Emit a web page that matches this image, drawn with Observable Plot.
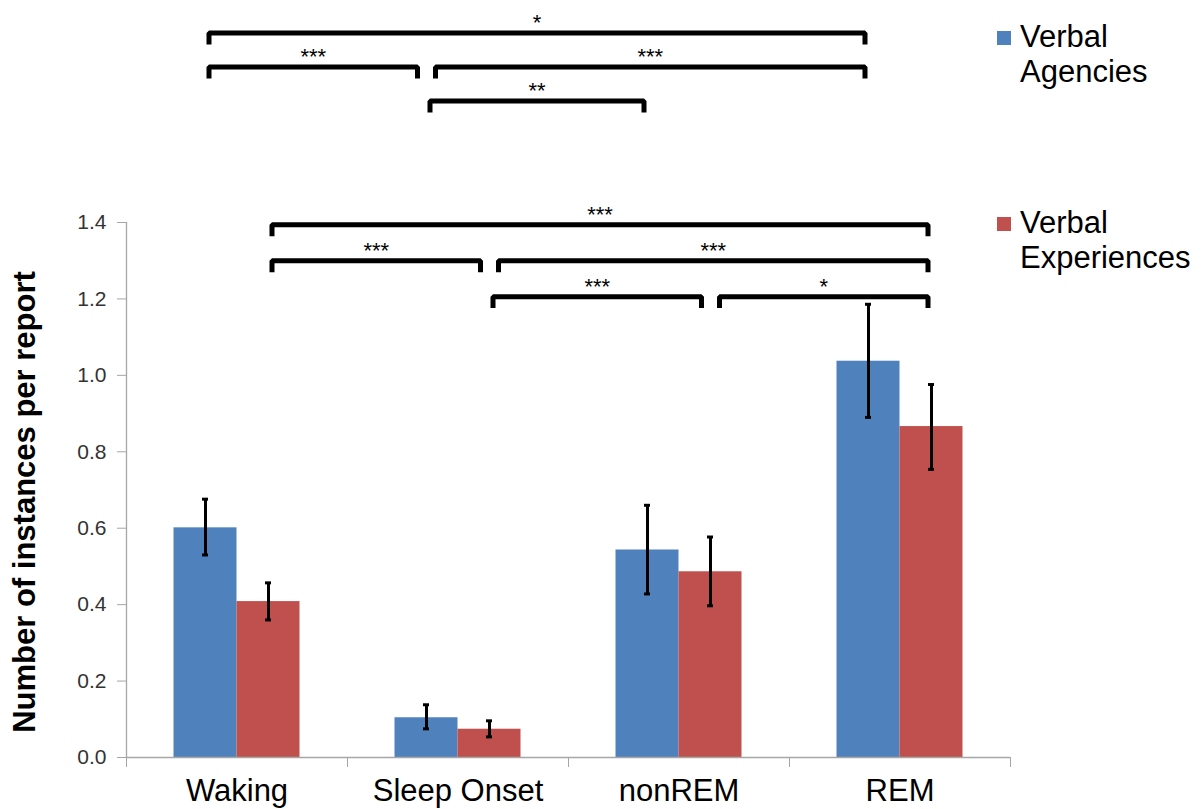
<!DOCTYPE html>
<html><head><meta charset="utf-8">
<script src="https://cdn.jsdelivr.net/npm/d3@7"></script>
<script src="https://cdn.jsdelivr.net/npm/@observablehq/plot@0.6"></script>
<style>
body{margin:0;background:#fff;}
#wrap{position:relative;width:1201px;height:809px;overflow:hidden;}
.legend{position:absolute;left:997px;font-family:"Liberation Sans",Arial,sans-serif;font-size:31px;line-height:35px;color:#000;}
.legend .sw{position:absolute;left:0;top:12px;width:14px;height:14px;}
.legend .tx{position:absolute;left:23px;top:0;white-space:nowrap;}
</style></head><body><div id="wrap"></div>
<script>
// ---- data ----
const categories = ["Waking", "Sleep Onset", "nonREM", "REM"];
const seriesNames = ["Verbal Agencies", "Verbal Experiences"];
const seriesColors = ["#4F81BD", "#C0504D"];
const agencies = [0.601, 0.104, 0.543, 1.037];
const agenciesLow = [0.530, 0.075, 0.428, 0.890];
const agenciesHigh = [0.676, 0.138, 0.660, 1.186];
const experiences = [0.408, 0.074, 0.486, 0.866];
const experiencesLow = [0.360, 0.054, 0.397, 0.754];
const experiencesHigh = [0.457, 0.096, 0.577, 0.976];
const yTicks = [0, 0.2, 0.4, 0.6, 0.8, 1.0, 1.2, 1.4];
const yTitle = "Number of instances per report";
// significance brackets (tier 0 = highest)
const agencyBrackets = [
  {from: "Waking", to: "REM", tier: 0, label: "*"},
  {from: "Waking", to: "Sleep Onset", tier: 1, label: "***"},
  {from: "Sleep Onset", to: "REM", tier: 1, label: "***"},
  {from: "Sleep Onset", to: "nonREM", tier: 2, label: "**"}
];
const experienceBrackets = [
  {from: "Waking", to: "REM", tier: 0, label: "***"},
  {from: "Waking", to: "Sleep Onset", tier: 1, label: "***"},
  {from: "Sleep Onset", to: "REM", tier: 1, label: "***"},
  {from: "Sleep Onset", to: "nonREM", tier: 2, label: "***"},
  {from: "nonREM", to: "REM", tier: 2, label: "*"}
];

// ---- layout constants (styling) ----
const W = 1201, H = 809;
const mL = 126, mR = 191, mT = 222, mB = 52;
const bandPx = (W - mL - mR) / categories.length;
const barFrac = 63 / bandPx;            // each bar's width in band units
const off = barFrac / 2;                // series center offset
const capHalf = 3 / bandPx;
const groupTop = [1.896, 1.394];        // top tier level of each bracket group
const tierStep = [0.089, 0.094];
const drop = 0.03;
const insetOuter = 3.5 / bandPx, insetInner = 9 / bandPx;

const values = [agencies, experiences], lows = [agenciesLow, experiencesLow], highs = [agenciesHigh, experiencesHigh];
const rows = [];
seriesNames.forEach((s, si) => categories.forEach((c, i) => {
  const x1 = si === 0 ? i - barFrac : i;
  rows.push({series: s, cat: c, x1, x2: x1 + barFrac, xc: x1 + barFrac / 2,
             v: values[si][i], lo: lows[si][i], hi: highs[si][i]});
}));

const bracketPts = [], bracketLabels = [];
[agencyBrackets, experienceBrackets].forEach((group, gi) => {
  const so = gi === 0 ? -off : off;
  group.forEach((b, bi) => {
    const i1 = categories.indexOf(b.from), i2 = categories.indexOf(b.to);
    const shareL = group.some(o => o !== b && o.tier === b.tier && o.to === b.from);
    const shareR = group.some(o => o !== b && o.tier === b.tier && o.from === b.to);
    const xa = i1 + so + (shareL ? insetInner : insetOuter);
    const xb = i2 + so - (shareR ? insetInner : insetOuter);
    const y = groupTop[gi] - b.tier * tierStep[gi];
    const id = gi + "-" + bi;
    bracketPts.push({id, x: xa, y: y - drop}, {id, x: xa, y}, {id, x: xb, y}, {id, x: xb, y: y - drop});
    bracketLabels.push({x: (xa + xb) / 2, y, label: b.label});
  });
});

const font = '"Liberation Sans", Arial, sans-serif';
const axisGray = "#a6a6a6";

const chart = Plot.plot({
  width: W, height: H,
  marginLeft: mL, marginRight: mR, marginTop: mT, marginBottom: mB,
  style: {fontFamily: font, background: "white", overflow: "visible"},
  x: {type: "linear", domain: [-0.5, categories.length - 0.5], axis: null},
  y: {domain: [0, 1.4], axis: null},
  color: {domain: seriesNames, range: seriesColors},
  marks: [
    Plot.rectY(rows, {x1: "x1", x2: "x2", y: "v", fill: "series"}),
    Plot.ruleX(rows, {x: "xc", y1: "lo", y2: "hi", stroke: "black", strokeWidth: 3}),
    Plot.ruleY(rows, {y: "lo", x1: d => d.xc - capHalf, x2: d => d.xc + capHalf, stroke: "black", strokeWidth: 3}),
    Plot.ruleY(rows, {y: "hi", x1: d => d.xc - capHalf, x2: d => d.xc + capHalf, stroke: "black", strokeWidth: 3}),
    Plot.ruleY([0], {stroke: axisGray, strokeWidth: 1.3}),
    Plot.ruleX([-0.5], {y1: 0, y2: 1.4, stroke: axisGray, strokeWidth: 1.3}),
    Plot.axisY(yTicks, {anchor: "left", tickFormat: d3.format(".1f"), tickSize: 9, tickPadding: 11,
      stroke: axisGray, fill: "#333", fontSize: 21, label: null}),
    Plot.axisX(d3.range(categories.length + 1).map(i => i - 0.5), {anchor: "bottom", tickSize: 10,
      tickFormat: () => "", stroke: axisGray, label: null}),
    Plot.axisX(d3.range(categories.length), {anchor: "bottom", tickSize: 0, tickPadding: 21,
      tickFormat: i => categories[i], fill: "#000", fontSize: 31, label: null}),
    Plot.line(bracketPts, {x: "x", y: "y", z: "id", stroke: "black", strokeWidth: 5,
      strokeLinejoin: "miter", strokeLinecap: "butt"}),
    Plot.text(bracketLabels, {x: "x", y: "y", text: "label", lineAnchor: "bottom", dy: -3,
      fontSize: 22, fill: "black"}),
    Plot.text([yTitle], {frameAnchor: "left", textAnchor: "middle", rotate: -90, dx: -101, dy: 12,
      fontSize: 31, fontWeight: "bold", fill: "black"})
  ]
});

const wrap = document.getElementById("wrap");
wrap.appendChild(chart);
// legend (HTML, beside the SVG)
const legendTops = [19, 205];
const legendLines = [["Verbal", "Agencies"], ["Verbal", "Experiences"]];
seriesNames.forEach((s, i) => {
  const d = document.createElement("div");
  d.className = "legend";
  d.style.top = legendTops[i] + "px";
  d.innerHTML = `<div class="sw" style="background:${seriesColors[i]}"></div><div class="tx">${legendLines[i].join("<br>")}</div>`;
  wrap.appendChild(d);
});
</script>
</body></html>
